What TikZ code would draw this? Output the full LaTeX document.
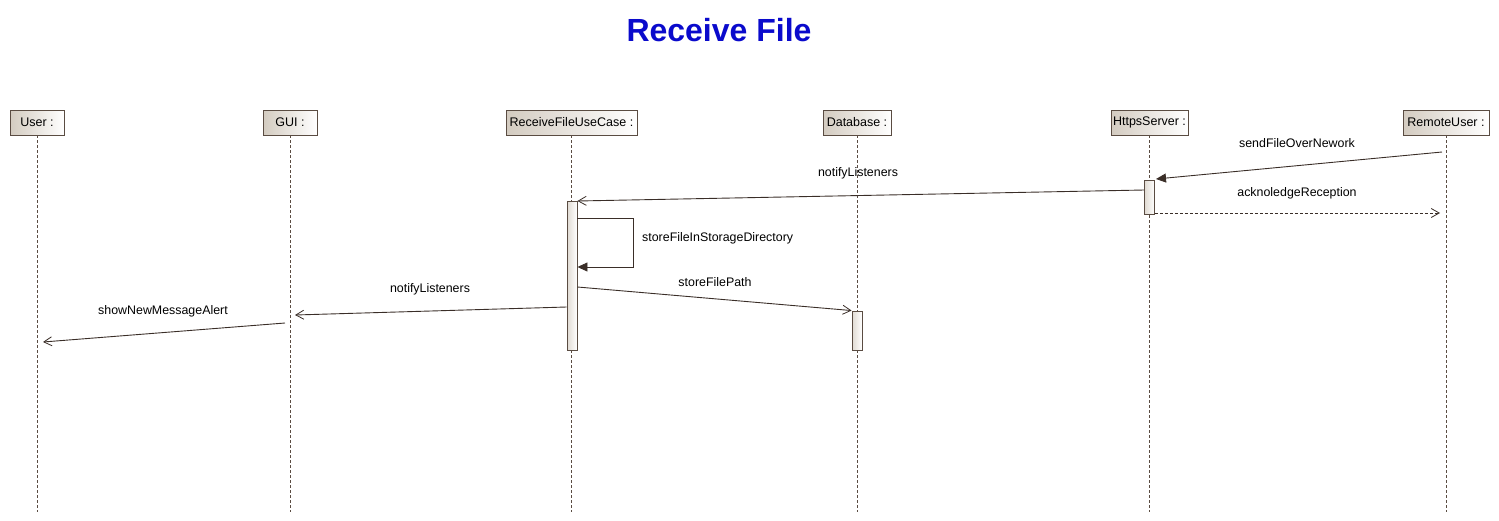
\documentclass[tikz,border=0pt]{standalone}
\usepackage{fontspec}
\setmainfont{Liberation Sans}
\usetikzlibrary{arrows.meta}
\definecolor{edge}{HTML}{5A4C42}
\definecolor{line}{HTML}{3A2E28}
\definecolor{shadel}{HTML}{D3CBC0}
\definecolor{titleblue}{HTML}{0A0ACC}
\tikzset{
  x=1pt, y=-1pt,
  obj/.style={draw=edge, line width=0.9pt, shading=axis, left color=shadel, right color=white, shading angle=90,
    minimum height=25pt, inner sep=0pt, font=\fontsize{12.5}{14}\selectfont},
  act/.style={draw=edge, line width=0.9pt, left color=shadel!70, right color=white, minimum width=10pt, inner sep=0pt},
  life/.style={draw=edge, dashed, dash pattern=on 3pt off 2pt, line width=0.8pt},
  msg/.style={draw=line, line width=0.9pt, -{Straight Barb[length=8pt,width=9pt,line width=0.8pt]}},
  sync/.style={draw=line, line width=0.9pt, -{Triangle[length=10pt,width=9pt]}},
  reply/.style={msg, dash pattern=on 3pt off 2pt},
  lbl/.style={font=\fontsize{12.4}{14}\selectfont, inner sep=0pt}
}
\begin{document}
\begin{tikzpicture}
\useasboundingbox (0,0) rectangle (1499,520);
\node[font=\fontsize{32}{36}\selectfont\bfseries, text=titleblue] (title) at (719,30) {Receive File};
% objects
\node[obj, minimum width=54pt] (user) at (37,122.5) {User :};
\node[obj, minimum width=54pt] (gui) at (290,122.5) {GUI :};
\node[obj, minimum width=131pt] (rfuc) at (571.5,122.5) {ReceiveFileUseCase :};
\node[obj, minimum width=68pt] (db) at (857,122.5) {Database :};
\node[obj, minimum width=77pt] (hs) at (1149.5,122.5) {HttpsServer :};
\node[obj, minimum width=86pt] (ru) at (1446,122.5) {RemoteUser :};
% lifeline ends
\coordinate (userE) at (user.south |- 0,512);
\coordinate (guiE) at (gui.south |- 0,512);
\coordinate (rfucE) at (rfuc.south |- 0,512);
\coordinate (dbE) at (db.south |- 0,512);
\coordinate (hsE) at (hs.south |- 0,512);
\coordinate (ruE) at (ru.south |- 0,512);
\draw[life] (user.south) -- (userE);
\draw[life] (gui.south) -- (guiE);
\draw[life] (rfuc.south) -- (rfucE);
\draw[life] (db.south) -- (dbE);
\draw[life] (hs.south) -- (hsE);
\draw[life] (ru.south) -- (ruE);
% activations
\node[act, minimum height=34pt] (hsA) at (1149.5,197) {};
\node[act, minimum height=149pt] (rfA) at (572,275.5) {};
\node[act, minimum height=39pt] (dbA) at (857,330.5) {};
% message endpoints
\coordinate (m1s) at (1442,152);
\coordinate (m1e) at (1156,179);
\coordinate (m2s) at (hsA.east |- 0,213);
\coordinate (m2e) at (1440,213);
\coordinate (m3s) at (hsA.west |- 0,190);
\coordinate (m3e) at (rfA.east |- 0,201);
\coordinate (m4s) at (rfA.east |- 0,218);
\coordinate (m4a) at (633,218);
\coordinate (m4b) at (633,267);
\coordinate (m4e) at (rfA.east |- 0,267);
\coordinate (m5s) at (rfA.east |- 0,287);
\coordinate (m5e) at (dbA.north west);
\coordinate (m6s) at (rfA.west |- 0,307);
\coordinate (m6e) at (295,315);
\coordinate (m7s) at (285,323);
\coordinate (m7e) at (43,342);
% messages
\draw[sync] (m1s) -- (m1e);
\draw[reply] (m2s) -- (m2e);
\draw[msg] (m3s) -- (m3e);
\draw[sync] (m4s) -- (m4a) -- (m4b) -- (m4e);
\draw[msg] (m5s) -- (m5e);
\draw[msg] (m6s) -- (m6e);
\draw[msg] (m7s) -- (m7e);
% labels
\node[lbl] (l1) at (1297,143) {sendFileOverNework};
\node[lbl] (l2) at (1297,193) {acknoledgeReception};
\node[lbl] (l3) at (858,173) {notifyListeners};
\node[lbl, anchor=west] (l4) at (642,238) {storeFileInStorageDirectory};
\node[lbl] (l5) at (715,282) {storeFilePath};
\node[lbl] (l6) at (430,289) {notifyListeners};
\node[lbl] (l7) at (163,311) {showNewMessageAlert};
\end{tikzpicture}
\end{document}
